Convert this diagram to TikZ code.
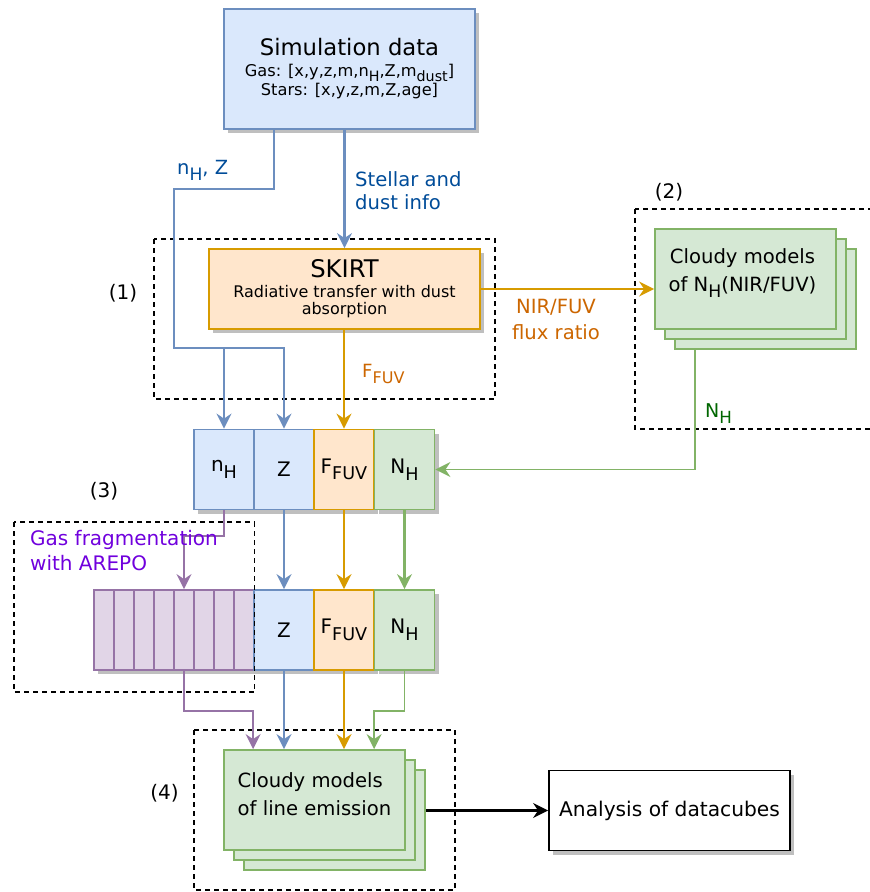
\documentclass[tikz,border=0pt]{standalone}
\usepackage{fontspec}
\setmainfont{DejaVu Sans}
\usetikzlibrary{arrows.meta,positioning,shadows}

\definecolor{bluefill}{HTML}{DAE8FC}
\definecolor{blueline}{HTML}{6C8EBF}
\definecolor{orangefill}{HTML}{FFE6CC}
\definecolor{orangeline}{HTML}{D79B00}
\definecolor{greenfill}{HTML}{D5E8D4}
\definecolor{greenline}{HTML}{82B366}
\definecolor{purplefill}{HTML}{E1D5E7}
\definecolor{purpleline}{HTML}{9673A6}
\definecolor{bluetext}{HTML}{004C99}
\definecolor{orangetext}{HTML}{CC6600}
\definecolor{greentext}{HTML}{006600}
\definecolor{purpletext}{HTML}{7000DD}

\newcommand\lowsub[1]{\raisebox{-0.33em}{\scalebox{0.88}{#1}}}

\tikzset{
  cell/.style={draw, line width=1.8pt, inner sep=0pt, minimum width=60pt, minimum height=80pt, font=\fontsize{20}{24}\selectfont},
  castshadow/.style={drop shadow={shadow xshift=4pt, shadow yshift=-4pt, fill=black!25, opacity=1}},
  bluecell/.style={cell, fill=bluefill, draw=blueline},
  orangecell/.style={cell, fill=orangefill, draw=orangeline},
  greencell/.style={cell, fill=greenfill, draw=greenline},
  purplecell/.style={cell, fill=purplefill, draw=purpleline},
  plaincell/.style={cell, fill=white, draw=black},
  groupbox/.style={draw=black, line width=1.6pt, dash pattern=on 5pt off 4pt},
  thinline/.style={line width=1.9pt},
  thickline/.style={line width=2.7pt},
  arr/.style={-{Stealth[length=15pt, width=15pt, inset=5pt]}},
  edgelabel/.style={inner sep=0pt, font=\fontsize{19.6}{23}\selectfont},
  grouplabel/.style={inner sep=0pt, font=\fontsize{20}{22}\selectfont}
}

\begin{document}
\begin{tikzpicture}[x=1pt,y=-1pt]
\useasboundingbox (0,0) rectangle (870,892);

\node[bluecell, castshadow, minimum width=251pt, minimum height=120pt, align=center, font=\fontsize{16.2}{19.5}\selectfont] (sim) at (349.5,69)
  {{\fontsize{22.7}{24}\selectfont Simulation data}\\[1pt]Gas: [x,y,z,m,n\lowsub{H},Z,m\lowsub{dust}]\\Stars: [x,y,z,m,Z,age]};
\node[orangecell, castshadow, minimum width=271pt, align=center, font=\fontsize{16}{17}\selectfont] (skirt) at (344.5,289)
  {{\fontsize{24.3}{26}\selectfont SKIRT}\\[3pt]Radiative transfer with dust\\absorption};

\foreach \k/\nm in {2/cl2c, 1/cl2b, 0/cl2}
  \node[greencell, minimum width=181pt, minimum height=100pt] (\nm) at (745.5+10*\k,279+10*\k) {};
\node[align=center, inner sep=0pt, font=\fontsize{19.6}{28}\selectfont] (cl2text) at ([xshift=-3pt,yshift=6pt]cl2.center) {Cloudy models\\of N\lowsub{H}(NIR/FUV)};

\node[bluecell, castshadow] (nh1) at (224,469.5) {n\lowsub{H}};
\node[bluecell, castshadow] (z1) at (284,469.5) {Z};
\node[orangecell, castshadow] (ff1) at (344,469.5) {F\lowsub{FUV}};
\node[greencell, castshadow] (NH1) at (404.5,469.5) {N\lowsub{H}};

\foreach \i in {1,...,8}
  \node[purplecell, castshadow, minimum width=20pt] (frag\i) at (84+20*\i,630) {};
\node[bluecell, castshadow] (z2) at (284,630) {Z};
\node[orangecell, castshadow] (ff2) at (344,630) {F\lowsub{FUV}};
\node[greencell, castshadow] (NH2) at (404.5,630) {N\lowsub{H}};

\foreach \k/\nm in {2/cl4c, 1/cl4b, 0/cl4}
  \node[greencell, minimum width=181pt, minimum height=100pt] (\nm) at (314.5+10*\k,800+10*\k) {};
\node[align=left, inner sep=0pt, font=\fontsize{19.6}{28}\selectfont] (cl4text) at ([yshift=6pt]cl4.center) {Cloudy models\\of line emission};

\node[plaincell, castshadow, minimum width=241pt, font=\fontsize{20.2}{22}\selectfont] (ana) at (669.5,810.5) {Analysis of datacubes};

\draw[groupbox] (154,239) rectangle (495,399);
\draw[groupbox] (635,209) rectangle (885,429);
\draw[groupbox] (14,522) rectangle (254.5,692);
\draw[groupbox] (194,730) rectangle (455,890);
\node[grouplabel] (g1) at (123,293) {(1)};
\node[grouplabel] (g2) at (669,192) {(2)};
\node[grouplabel] (g3) at (104,491) {(3)};
\node[grouplabel] (g4) at (164.5,793) {(4)};

\draw[thickline, blueline, arr] (skirt.north |- sim.south) -- (skirt.north);
\coordinate (nzturn) at (224,348);
\draw[thinline, blueline, arr] ([xshift=-75.5pt]sim.south) |- (174,189) |- (nzturn) -| (z1.north);
\draw[thinline, blueline, arr] (nzturn) -- (nh1.north);
\draw[thickline, orangeline, arr] (ff1.north |- skirt.south) -- (ff1.north);
\draw[thinline, orangeline, line width=2.3pt, arr] (skirt.east) -- (skirt.east -| cl2.west);
\draw[thinline, greenline, arr] ([xshift=21pt]cl2c.south west) |- (NH1.east);

\draw[thinline, purpleline, arr] (nh1.south) -- ++(0,25.5) -| (frag5.north);
\draw[thickline, blueline, arr] (z1.south) -- (z2.north);
\draw[thickline, orangeline, arr] (ff1.south) -- (ff2.north);
\draw[thickline, greenline, arr] (NH1.south) -- (NH2.north);

\draw[thinline, purpleline, arr] (frag5.south) -- ++(0,40.5) -| ([xshift=30pt]cl4.north west);
\draw[thickline, blueline, arr] (z2.south) -- (z2.south |- cl4.north);
\draw[thickline, orangeline, arr] (ff2.south) -- (ff2.south |- cl4.north);
\draw[thinline, greenline, arr] (NH2.south) -- ++(0,40.5) -| ([xshift=151pt]cl4.north west);
\draw[thinline, line width=2.3pt, arr] (ana.west -| cl4c.east) -- (ana.west);

\node[edgelabel, text=bluetext, font=\fontsize{19.5}{20}\selectfont, anchor=base west] (nzlabel) at (177,174) {n\lowsub{H}, Z};
\node[edgelabel, text=bluetext, align=left, anchor=north west] (stellarlabel) at (355,171.5) {Stellar and\\dust info};
\node[edgelabel, text=orangetext, font=\fontsize{18.2}{22}\selectfont, anchor=base west] (fuvlabel) at (362,377) {F\lowsub{FUV}};
\node[edgelabel, text=orangetext, align=center, font=\fontsize{19.6}{26}\selectfont, anchor=north] (ratiolabel) at (556,299.5) {NIR/FUV\\flux ratio};
\node[edgelabel, text=greentext, font=\fontsize{19}{22}\selectfont, anchor=base west] (nhlabel) at (705,417) {N\lowsub{H}};
\node[edgelabel, text=purpletext, align=left, font=\fontsize{20}{25}\selectfont, anchor=north west] (fraglabel) at (30,530) {Gas fragmentation\\with AREPO};
\end{tikzpicture}
\end{document}
